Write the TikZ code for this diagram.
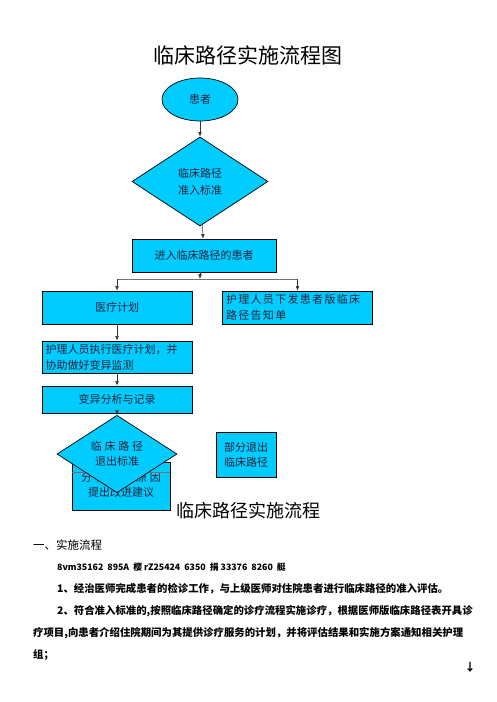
\documentclass[tikz,border=0pt]{standalone}
\usepackage{fontspec}
\setmainfont{Noto Sans CJK SC}
\newfontfamily\cjkwide[LetterSpace=12]{Noto Sans CJK SC}
\newfontfamily\cjkwider[LetterSpace=25]{Noto Sans CJK SC}
\usetikzlibrary{arrows.meta,shapes.geometric}
\definecolor{skycyan}{RGB}{0,204,255}
\definecolor{ink}{RGB}{35,35,60}
\tikzset{
  box/.style={draw=black,fill=skycyan,line width=0.7pt,align=center,
    font=\fontsize{11}{16}\selectfont,text=ink,inner sep=3pt},
  gate/.style={diamond,draw=black,fill=skycyan,line width=0.7pt,inner sep=0pt,align=center,
    font=\fontsize{11}{17}\selectfont,text=ink},
  flow/.style={-{Latex[length=1.6mm,width=1.3mm]},line width=0.5pt,draw=black!80},
  split/.style={line width=0.5pt,draw=black!55},
  para/.style={anchor=west,inner sep=0pt,font=\bfseries\fontsize{10.4}{12}\selectfont},
}

\begin{document}
\begin{tikzpicture}[x=1pt,y=-1pt]
  \useasboundingbox (0,0) rectangle (496,702);
  % flow chart
  \node[font=\fontsize{21}{24}\selectfont] (title) at (248,55) {临床路径实施流程图};
  \node[box,ellipse,minimum width=76pt,minimum height=43pt] (patient) at (200,99.5) {患者};
  \node[gate,minimum width=136pt,minimum height=89pt] (entry) at (200,181.5) {临床路径\\准入标准};
  \node[box,minimum width=144pt,minimum height=33pt] (enter) at (204,255.5) {进入临床路径的患者};
  \coordinate (fork) at (200,279);
  \coordinate (forkL) at (117,279);
  \coordinate (forkR) at (297.5,279);
  \node[box,minimum width=150pt,minimum height=33pt] (plan) at (117,307.5) {医疗计划};
  \node[box,minimum width=150pt,minimum height=33pt,text width=143pt,align=left,
    font=\cjkwide\fontsize{11}{16}\selectfont] (notice) at (297.5,307.5) {护理人员下发患者版临床\\路径告知单};
  \node[box,minimum width=150pt,minimum height=32pt,text width=143pt,align=left] (exec) at (117,357)
    {护理人员执行医疗计划，并\\协助做好变异监测};
  \node[box,minimum width=98pt,minimum height=48pt,font=\fontsize{11}{15}\selectfont] (improve) at (121,486)
    {\raisebox{-4.5pt}{\begin{tabular}{@{}c@{}}{\cjkwider 分析变异原因}\\提出改进建议\end{tabular}}};
  \draw[split] (improve.west |- 0,472) -- (improve.east |- 0,472);
  \node[box,minimum width=150pt,minimum height=27pt] (analyse) at (117,399.5) {变异分析与记录};
  \node[gate,minimum width=120pt,minimum height=58pt,font=\fontsize{11}{15}\selectfont] (exit) at (117,454)
    {{\cjkwider 临床路径}\\退出标准};
  \node[box,minimum width=60pt,minimum height=45pt,font=\fontsize{11}{15}\selectfont] (quit) at (246,454.5)
    {部分退出\\临床路径};
  \draw[flow] (patient) -- (entry);
  \draw[flow] (entry) -- (enter);
  \draw[flow] (enter.south -| fork) -- (fork);
  \draw[split] (forkL) -- (forkR);
  \draw[flow] (forkL) -- (plan);
  \draw[flow] (forkR) -- (notice);
  \draw[flow] (plan) -- (exec);
  \draw[flow] (exec) -- (analyse);
  \draw[flow] (analyse) -- (exit);
  % text below
  \node[font=\fontsize{18}{20}\selectfont] (heading) at (248,511) {临床路径实施流程};
  \node[para,font=\fontsize{11.5}{13}\selectfont] (sec) at (33,545) {一、实施流程};
  \node[para,font=\bfseries\fontsize{8.8}{10}\selectfont] (code) at (57,567)
    {8vm35162\ \ 895A\ \ 樱\ rZ25424\ \ 6350\ \ 捐\ 33376\ \ 8260\ \ 艇};
  \node[para] (l1) at (57,589) {1、经治医师完成患者的检诊工作，与上级医师对住院患者进行临床路径的准入评估。};
  \node[para] (l2) at (57,611) {2、符合准入标准的,按照临床路径确定的诊疗流程实施诊疗，根据医师版临床路径表开具诊};
  \node[para] (l3) at (33,633) {疗项目,向患者介绍住院期间为其提供诊疗服务的计划，并将评估结果和实施方案通知相关护理};
  \node[para] (l4) at (33,655) {组；};
  \node[font=\bfseries\fontsize{11}{12}\selectfont] (down) at (470,667) {↓};
\end{tikzpicture}
\end{document}
